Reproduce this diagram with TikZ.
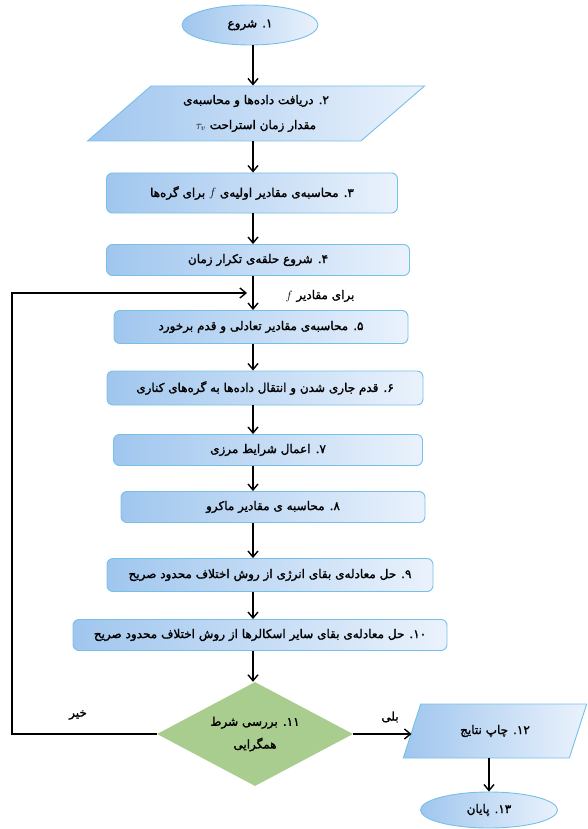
\documentclass[tikz,border=0pt]{standalone}
\usepackage{fontspec}
\newfontfamily\persianfont[Script=Arabic,FakeBold=1.6]{DejaVu Sans}
\TeXXeTstate=1
\usetikzlibrary{shapes.geometric,arrows.meta}
\newcommand{\fatxt}[1]{\beginR #1\endR}
\definecolor{boxdark}{RGB}{160,198,238}
\definecolor{boxlight}{RGB}{234,242,252}
\definecolor{boxline}{RGB}{118,192,232}
\definecolor{condgreen}{RGB}{168,205,142}
\tikzset{
  fatext/.style={font=\persianfont\fontsize{12}{13}\selectfont},
  stepbox/.style={fatext, draw=boxline, line width=0.9pt, rounded corners=6pt,
    left color=boxdark, right color=boxlight, inner sep=2pt},
  endpoint/.style={fatext, ellipse, draw=boxline, line width=0.9pt,
    left color=boxdark, right color=boxlight, inner sep=0pt},
  iobox/.style={fatext, trapezium, trapezium stretches=true, draw=boxline,
    line width=0.9pt, left color=boxdark, right color=boxlight, inner sep=0pt, align=center},
  check/.style={fatext, diamond, fill=condgreen, inner sep=0pt, align=center},
  flow/.style={line width=1.4pt, -{Straight Barb[length=6pt,width=10pt,line width=1.4pt]}}
}
\begin{document}
\begin{tikzpicture}[x=1pt,y=-1pt]
\useasboundingbox (0,0) rectangle (587,829);
\path
(253,0) coordinate (spine)
(12,0) coordinate (edge)
(247,293) coordinate (back)
;
\node[endpoint, minimum width=136pt, minimum height=40pt] (start) at (250,25) {\fatxt{۱. شروع}};
\node[iobox, trapezium left angle=40, trapezium right angle=140, minimum width=338pt, minimum height=55pt] (read) at (256,113.5)
  {\fatxt{۲. دریافت داده‌ها و محاسبه‌ی}\\[12pt]\fatxt{مقدار زمان استراحت \beginL$\tau_v$\endL}};
\node[stepbox, minimum width=291pt, minimum height=40pt] (init) at (252,193) {\fatxt{۳. محاسبه‌ی مقادیر اولیه‌ی \beginL$f$\endL{} برای گره‌ها}};
\node[stepbox, minimum width=303pt, minimum height=31pt] (loop) at (258,260) {\fatxt{۴. شروع حلقه‌ی تکرار زمان}};
\node[stepbox, minimum width=294pt, minimum height=33pt] (equil) at (261,327) {\fatxt{۵. محاسبه‌ی مقادیر تعادلی و قدم برخورد}};
\node[stepbox, minimum width=316pt, minimum height=34pt] (stream) at (265,388) {\fatxt{۶. قدم جاری شدن و انتقال داده‌ها به گره‌های کناری}};
\node[stepbox, minimum width=309pt, minimum height=31pt] (bound) at (268,450) {\fatxt{۷. اعمال شرایط مرزی}};
\node[stepbox, minimum width=304pt, minimum height=31pt] (macro) at (273,507) {\fatxt{۸. محاسبه ی مقادیر ماکرو}};
\node[stepbox, minimum width=326pt, minimum height=33pt] (energy) at (270,575) {\fatxt{۹. حل معادله‌ی بقای انرژی از روش اختلاف محدود صریح}};
\node[stepbox, minimum width=374pt, minimum height=31pt] (scalar) at (260,635) {\fatxt{۱۰. حل معادله‌ی بقای سایر اسکالرها از روش اختلاف محدود صریح}};
\node[check, aspect=1.88, minimum width=196pt, minimum height=104pt] (cond) at (255,734)
  {\fatxt{۱۱. بررسی شرط}\\[8pt]\fatxt{همگرایی}};
\node[iobox, trapezium left angle=56, trapezium right angle=124, minimum width=184pt, minimum height=54pt] (print) at (495,731) {\fatxt{۱۲. چاپ نتایج}};
\node[endpoint, minimum width=137pt, minimum height=36pt] (stop) at (489,810) {\fatxt{۱۳. پایان}};

\foreach \a/\b in {start/read, read/init, init/loop, equil/stream, stream/bound, bound/macro, macro/energy, energy/scalar, scalar/cond}
\draw[flow] (\a.south -| spine) -- (\b.north -| spine);
\draw[flow] (loop.south -| spine) -- (equil.north -| spine);
\draw[flow] (cond.west) -- (cond.west -| edge) |- (back);
\draw[flow] (cond.east) -- (cond.east -| print.west);
\draw[flow] (stop.north |- print.south) -- (stop.north);

\node[fatext] (fval) at (320,296) {\fatxt{برای مقادیر \beginL$f$\endL}};
\node[fatext] (no) at (78,715) {\fatxt{خیر}};
\node[fatext] (yes) at (390,717) {\fatxt{بلی}};
\end{tikzpicture}
\end{document}
